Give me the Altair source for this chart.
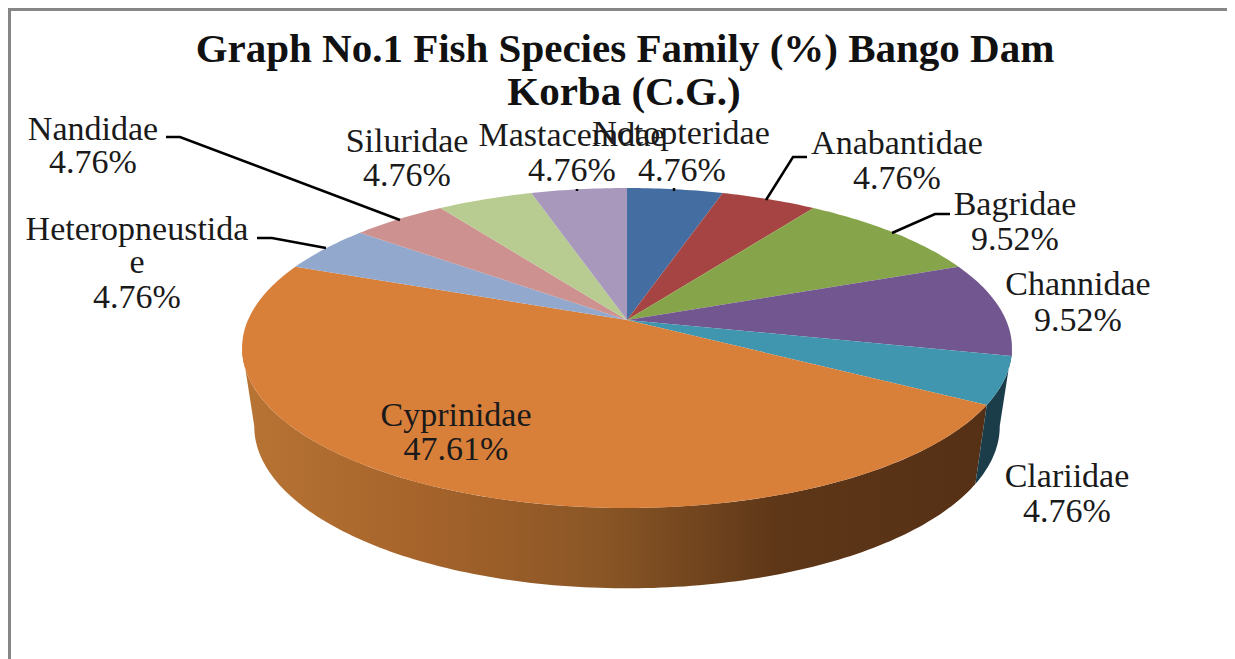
import math
import altair as alt
import pandas as pd

# ---- chart values ----
families = ["Notopteridae", "Anabantidae", "Bagridae", "Channidae", "Clariidae",
            "Cyprinidae", "Heteropneustidae", "Nandidae", "Siluridae", "Mastacemdae"]
shares = [4.76, 4.76, 9.52, 9.52, 4.76, 47.61, 4.76, 4.76, 4.76, 4.76]
colors = ["#446ea2", "#a54442", "#86a44a", "#72568f", "#3f96ae",
          "#d87f3a", "#92a8cd", "#cd9190", "#b8cc92", "#a798bc"]
title_lines = ["Graph No.1 Fish Species Family (%) Bango Dam", "Korba (C.G.)"]

label_text = ["Mastacemdae", "4.76%", "Notopteridae", "4.76%", "Anabantidae", "4.76%", "Bagridae", "9.52%",
              "Channidae", "9.52%", "Clariidae", "4.76%", "Cyprinidae", "47.61%",
              "Heteropneustida", "e", "4.76%", "Nandidae", "4.76%", "Siluridae", "4.76%"]
label_x = [572, 572, 681, 682, 897, 897, 1015, 1015, 1078, 1078, 1067, 1067, 456, 456,
           137, 137, 137, 93, 93, 407, 407]
label_y = [146, 181, 144, 181, 154, 189, 215, 250, 295, 331, 487, 522, 426, 460,
           240, 273, 308, 140, 173, 152, 186]
title_x = [625, 624]
title_y = [62, 105]

leader_id = ["n", "n", "n", "h", "h", "h", "a", "a", "a", "b", "b", "b", "t1", "t1", "t2", "t2"]
leader_x = [166, 180, 400, 257, 272, 326, 807, 793, 766, 950, 935, 892, 577, 577, 674, 674]
leader_y = [137, 137, 220, 238, 238, 248, 157, 157, 200, 214, 214, 233, 189, 191, 188, 191]

# ---- perspective of the pie ----
CX, KP = 627, 0.175
TOP = dict(a=379, b=155.1, y0=320)
BOT = dict(a=367, b=157, y0=398)
W, H = 1219, 651


def project(deg, disc):
    t = math.radians(deg)
    u, v = math.sin(t), math.cos(t)
    d = 1 + KP * v
    return CX + disc["a"] * u / d, disc["y0"] - disc["b"] * v / d


def arc(a0, a1, disc, step=1.0):
    n = max(2, int(abs(a1 - a0) / step) + 1)
    return [project(a0 + (a1 - a0) * i / n, disc) for i in range(n + 1)]


total = sum(shares)
edges = [0.0]
for s in shares:
    edges.append(edges[-1] + s / total * 360)

rows = []
for i, fam in enumerate(families):
    pts = [(CX, TOP["y0"])] + arc(edges[i], edges[i + 1], TOP) + [(CX, TOP["y0"])]
    for j, (x, y) in enumerate(pts):
        rows.append(dict(family=fam, color=colors[i], x=x, y=y, o=j))
top_df = pd.DataFrame(rows)


def wall(a0, a1):
    pts = arc(a0, a1, TOP) + arc(a1, a0, BOT)
    pts.append(pts[0])
    return pd.DataFrame([dict(x=x, y=y, o=j) for j, (x, y) in enumerate(pts)])


LEFT_LIMIT, RIGHT_LIMIT = 260, 100
wall_cyp = wall(edges[5], LEFT_LIMIT)
wall_cla = wall(RIGHT_LIMIT, edges[5])

X = alt.X("x:Q", axis=None, scale=alt.Scale(domain=[8, 8 + W], range=[0, W], nice=False, zero=False))
Y = alt.Y("y:Q", axis=None, scale=alt.Scale(domain=[8, 8 + H], range=[0, H], nice=False, zero=False))
O = alt.Order("o:Q")

gradient = alt.Gradient(
    gradient="linear", x1=0, x2=1, y1=0, y2=0,
    stops=[alt.GradientStop(offset=0, color="#b87434"),
           alt.GradientStop(offset=0.25, color="#a5632b"),
           alt.GradientStop(offset=0.48, color="#8a5626"),
           alt.GradientStop(offset=0.72, color="#5e3718"),
           alt.GradientStop(offset=1, color="#563015")],
)

wall_a = alt.Chart(wall_cyp).mark_line(fill=gradient, strokeWidth=0).encode(x=X, y=Y, order=O)
wall_b = alt.Chart(wall_cla).mark_line(fill="#1b3d4a", strokeWidth=0).encode(x=X, y=Y, order=O)
wedges = alt.Chart(top_df).mark_line(strokeWidth=0).encode(
    x=X, y=Y, order=O, detail="family:N",
    fill=alt.Fill("color:N", scale=None),
)

leaders = alt.Chart(pd.DataFrame(dict(id=leader_id, x=leader_x, y=leader_y, o=range(len(leader_x))))).mark_line(
    color="#000000", strokeWidth=2.5
).encode(x=X, y=Y, order=O, detail="id:N")

labels = alt.Chart(pd.DataFrame(dict(t=label_text, x=label_x, y=label_y, o=range(len(label_x))))).mark_text(
    font="Liberation Serif", fontSize=34, color="#1a1a1a", align="center", baseline="alphabetic"
).encode(x=X, y=Y, text="t:N")

title = alt.Chart(pd.DataFrame(dict(t=title_lines, x=title_x, y=title_y))).mark_text(
    font="Liberation Serif", fontSize=41, fontWeight="bold", color="#111111", align="center", baseline="alphabetic"
).encode(x=X, y=Y, text="t:N")

frame = alt.Chart(pd.DataFrame(dict(x=[9.5, 9.5, 8 + W], y=[8 + H, 9.5, 9.5], o=[0, 1, 2]))).mark_line(
    color="#868686", strokeWidth=3
).encode(x=X, y=Y, order=O)

chart = alt.layer(frame, wall_a, wall_b, wedges, leaders, title, labels).properties(
    width=W, height=H, padding={"left": 0, "top": 0, "right": 0, "bottom": 0},
    background="white", autosize=alt.AutoSizeParams(type="none"),
).configure_view(stroke=None)

chart.save("out.html", embed_options={"renderer": "svg", "actions": False})
